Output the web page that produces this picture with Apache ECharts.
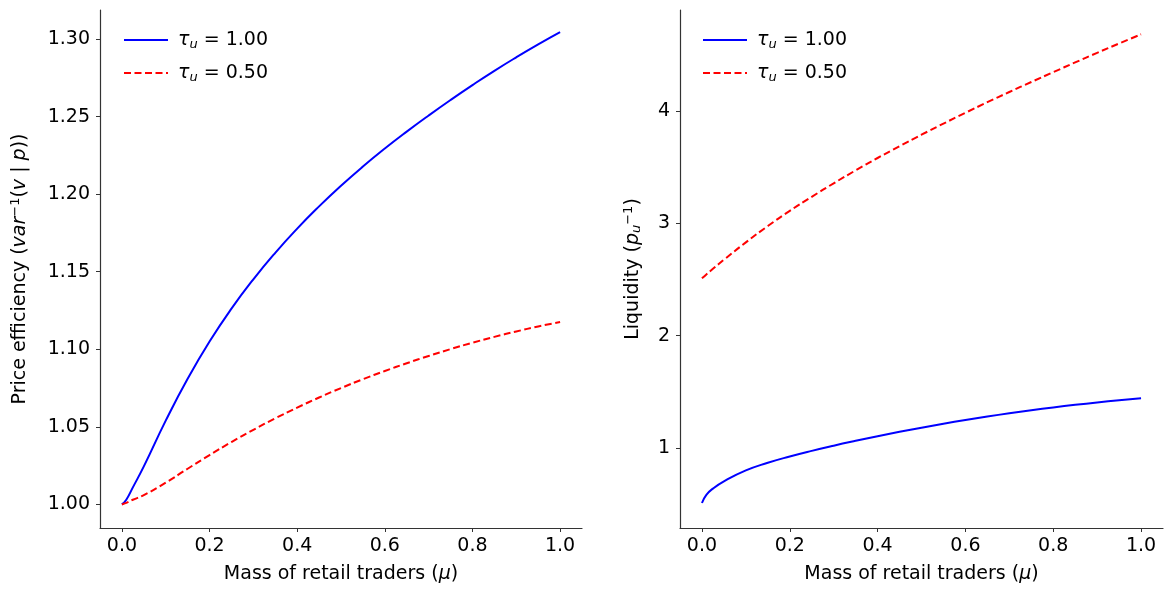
<!DOCTYPE html>
<html>
<head>
<meta charset="utf-8">
<script src="https://cdn.jsdelivr.net/npm/echarts@6/dist/echarts.min.js"></script>
<style>
  html, body { margin: 0; padding: 0; background: #fff; }
  #chart { width: 1164px; height: 589px; }
</style>
</head>
<body>
<div id="chart"></div>
<script>
// ---- Data ----
const mu = [0, 0.01, 0.025, 0.05, 0.1, 0.15, 0.2, 0.25, 0.3, 0.35, 0.4, 0.45, 0.5, 0.55, 0.6, 0.65, 0.7, 0.75, 0.8, 0.85, 0.9, 0.95, 1.0];

const effTau100 = [1.000, 1.003, 1.011, 1.0245, 1.0540, 1.0810, 1.1050, 1.1262, 1.1451, 1.1622, 1.1778, 1.1921, 1.2054, 1.2178, 1.2294, 1.2403, 1.2507, 1.2607, 1.2703, 1.2795, 1.2882, 1.2965, 1.3044];
const effTau050 = [1.000, 1.001, 1.003, 1.006, 1.0140, 1.0230, 1.0318, 1.0402, 1.0481, 1.0555, 1.0624, 1.0689, 1.0750, 1.0807, 1.0860, 1.0910, 1.0957, 1.1001, 1.1042, 1.1080, 1.1115, 1.1147, 1.1176];

const liqTau100 = [0.512, 0.585, 0.640, 0.705, 0.802, 0.870, 0.926, 0.976, 1.022, 1.065, 1.106, 1.145, 1.182, 1.217, 1.250, 1.281, 1.310, 1.337, 1.362, 1.385, 1.406, 1.426, 1.444];
const liqTau050 = [2.51, 2.545, 2.595, 2.675, 2.83, 2.975, 3.11, 3.235, 3.355, 3.47, 3.58, 3.685, 3.787, 3.886, 3.982, 4.076, 4.167, 4.256, 4.343, 4.43, 4.515, 4.598, 4.68];

const xTicks = [0, 0.2, 0.4, 0.6, 0.8, 1.0];
const effTicks = [1.00, 1.05, 1.10, 1.15, 1.20, 1.25, 1.30];
const liqTicks = [1, 2, 3, 4];

const seriesNames = ['τu = 1.00', 'τu = 0.50'];
const legendLabels = {'τu = 1.00': '1.00', 'τu = 0.50': '0.50'};

// ---- Styling ----
const FONT = 'DejaVu Sans';
const AX = '#333';
const FS = 19;

function pairs(xs, ys) { return xs.map((x, i) => [x, ys[i]]); }

const richCommon = {
  i: { fontFamily: FONT, fontSize: FS, fontStyle: 'italic', color: '#000' },
  sup: { fontFamily: FONT, fontSize: 13, fontStyle: 'normal', color: '#000', padding: [0, 0, 9, 0] },
  sub: { fontFamily: FONT, fontSize: 13, fontStyle: 'italic', color: '#000', padding: [8, 0, 0, 0] }
};

function xAxisCfg(gridIndex) {
  return {
    type: 'value', gridIndex: gridIndex, min: -0.05, max: 1.05,
    name: 'Mass of retail traders ({i|μ})', nameLocation: 'middle', nameGap: 37,
    nameTextStyle: { fontFamily: FONT, fontSize: FS, color: '#000', rich: richCommon },
    axisLine: { show: true, onZero: false, lineStyle: { color: AX, width: 1.2 } },
    axisTick: { show: true, length: 4, lineStyle: { color: AX, width: 1 }, customValues: xTicks },
    axisLabel: { fontFamily: FONT, fontSize: FS, color: '#000', margin: 9, customValues: xTicks,
                 formatter: v => v.toFixed(1) },
    splitLine: { show: false }
  };
}

function legendCfg(left) {
  return {
    left: left, top: 24, orient: 'vertical',
    itemWidth: 44, itemHeight: 14, itemGap: 11,
    data: seriesNames,
    selectedMode: false,
    itemStyle: { opacity: 0 },
    formatter: n => '{t|τ}{s|u}{n| = ' + legendLabels[n] + '}',
    textStyle: {
      padding: [0, 0, 0, 5],
      rich: {
        t: { fontFamily: FONT, fontSize: FS, fontStyle: 'italic', color: '#000', lineHeight: 24 },
        s: { fontFamily: FONT, fontSize: 13, fontStyle: 'italic', color: '#000', padding: [9, 0, 0, 0], lineHeight: 24 },
        n: { fontFamily: FONT, fontSize: FS, color: '#000', lineHeight: 24 }
      }
    }
  };
}

function lineSeries(name, xi, yi, xs, ys, color, dashed) {
  return {
    name: name, type: 'line', xAxisIndex: xi, yAxisIndex: yi,
    data: pairs(xs, ys), smooth: 0.5, symbol: 'none', showSymbol: false,
    lineStyle: { color: color, width: 2, type: dashed ? [7, 3.5] : 'solid' },
    itemStyle: { color: color },
    emphasis: { disabled: true }, animation: false
  };
}

const option = {
  backgroundColor: '#ffffff',
  animation: false,
  grid: [
    { left: 100, top: 10, width: 482, height: 518, outerBoundsMode: 'none', containLabel: false },
    { left: 680, top: 10, width: 483, height: 518, outerBoundsMode: 'none', containLabel: false }
  ],
  legend: [legendCfg(118), legendCfg(697)],
  xAxis: [xAxisCfg(0), xAxisCfg(1)],
  yAxis: [
    {
      type: 'value', gridIndex: 0, min: 0.9848, max: 1.3187,
      name: 'Price efficiency ({i|var}{sup|−1}({i|v} | {i|p}))', nameLocation: 'middle', nameRotate: 90, nameGap: 69,
      nameTextStyle: { fontFamily: FONT, fontSize: FS, color: '#000', rich: richCommon },
      axisLine: { show: true, onZero: false, lineStyle: { color: AX, width: 1.2 } },
      axisTick: { show: true, length: 4, lineStyle: { color: AX, width: 1 }, customValues: effTicks },
      axisLabel: { fontFamily: FONT, fontSize: FS, color: '#000', margin: 10, customValues: effTicks,
                   formatter: v => v.toFixed(2) },
      splitLine: { show: false }
    },
    {
      type: 'value', gridIndex: 1, min: 0.29, max: 4.896,
      name: 'Liquidity ({i|p}{sub|u}{sup|−1})', nameLocation: 'middle', nameRotate: 90, nameGap: 36,
      nameTextStyle: { fontFamily: FONT, fontSize: FS, color: '#000', rich: richCommon },
      axisLine: { show: true, onZero: false, lineStyle: { color: AX, width: 1.2 } },
      axisTick: { show: true, length: 4, lineStyle: { color: AX, width: 1 }, customValues: liqTicks },
      axisLabel: { fontFamily: FONT, fontSize: FS, color: '#000', margin: 10, customValues: liqTicks,
                   formatter: v => String(Math.round(v)) },
      splitLine: { show: false }
    }
  ],
  series: [
    lineSeries(seriesNames[0], 0, 0, mu, effTau100, '#0000ff', false),
    lineSeries(seriesNames[1], 0, 0, mu, effTau050, '#ff0000', true),
    lineSeries(seriesNames[0], 1, 1, mu, liqTau100, '#0000ff', false),
    lineSeries(seriesNames[1], 1, 1, mu, liqTau050, '#ff0000', true)
  ]
};

const chart = echarts.init(document.getElementById('chart'), null, { renderer: 'canvas' });
chart.setOption(option);
</script>
</body>
</html>
